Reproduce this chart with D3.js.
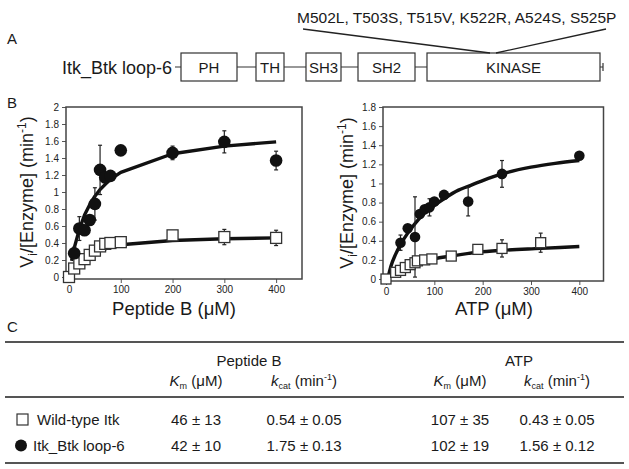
<!DOCTYPE html>
<html><head><meta charset="utf-8">
<script src="https://cdn.jsdelivr.net/npm/d3@7"></script>
<style>
html,body{margin:0;padding:0;background:#fff;}
svg{display:block;font-family:"Liberation Sans",Arial,Helvetica,sans-serif;}
</style></head>
<body>
<svg id="c" width="629" height="469"></svg>
<script>
// ---------- data ----------
const domains = ["PH","TH","SH3","SH2","KINASE"];
const mutations = "M502L, T503S, T515V, K522R, A524S, S525P";

// Panel B left: Peptide B
const pepX_loop = [10,20,30,40,50,60,70,80,100,200,300,400];
const pepY_loop = [0.28,0.57,0.55,0.67,0.86,1.26,1.17,1.19,1.49,1.46,1.59,1.37];
const pepE_loop = [0.07,0.14,0.03,0.04,0.19,0.29,0.04,0.03,0,0.08,0.13,0.11];
const pepX_wt = [0,10,20,30,40,50,60,70,80,100,200,300,400];
const pepY_wt = [0,0.10,0.16,0.21,0.26,0.31,0.36,0.39,0.40,0.41,0.49,0.47,0.46];
const pepE_wt = [0,0,0,0,0,0,0,0,0,0,0.03,0.09,0.09];
const pepFitX_loop = [5,10,20,30,40,50,60,70,80,100,200,300,400];
const pepFitY_loop = [0.19,0.34,0.56,0.73,0.85,0.95,1.03,1.09,1.15,1.23,1.45,1.54,1.59];
const pepFitX_wt = [0,10,20,30,40,50,60,70,80,100,200,300,400];
const pepFitY_wt = [0,0.10,0.16,0.21,0.25,0.28,0.31,0.33,0.35,0.38,0.43,0.45,0.46];

// Panel B right: ATP
const atpX_loop = [30,45,60,70,80,90,100,120,170,240,400];
const atpY_loop = [0.38,0.53,0.44,0.68,0.73,0.75,0.81,0.88,0.81,1.10,1.29];
const atpE_loop = [0.08,0.02,0.42,0.03,0.03,0.09,0.03,0.02,0.15,0.14,0];
const atpX_wt = [0,20,30,40,50,60,65,80,95,135,190,240,320];
const atpY_wt = [0,0.07,0.09,0.12,0.15,0.17,0.19,0.20,0.21,0.24,0.31,0.32,0.38];
const atpE_wt = [0,0,0,0,0,0,0,0,0,0,0,0.09,0.10];
const atpFitX_loop = [5,10,20,30,45,60,80,100,120,150,170,200,240,300,350,400];
const atpFitY_loop = [0.03,0.13,0.26,0.36,0.48,0.58,0.69,0.77,0.84,0.93,0.97,1.03,1.10,1.17,1.21,1.24];
const atpFitX_wt = [0,20,40,60,80,100,135,190,240,320,400];
const atpFitY_wt = [0,0.07,0.12,0.15,0.18,0.21,0.24,0.28,0.30,0.32,0.34];

const xTicks = [0,100,200,300,400];
const yTicksPep = [0,0.2,0.4,0.6,0.8,1,1.2,1.4,1.6,1.8,2];
const yTicksAtp = [0,0.2,0.4,0.6,0.8,1,1.2,1.4,1.6,1.8];

// Table C
const tableRows = ["Wild-type Itk","Itk_Btk loop-6"];
const kmPep = ["46 ± 13","42 ± 10"];
const kcatPep = ["0.54 ± 0.05","1.75 ± 0.13"];
const kmAtp = ["107 ± 35","102 ± 19"];
const kcatAtp = ["0.43 ± 0.05","1.56 ± 0.12"];

// ---------- drawing ----------
const svg = d3.select("#c");
const ink = "#1a1a1a";

// ===== Panel A =====
svg.append("text").attr("x",7).attr("y",44).attr("font-size",15).attr("fill",ink).text("A");
svg.append("text").attr("x",297).attr("y",22.5).attr("font-size",15.5).attr("fill",ink).text(mutations);
const boxX = [181,256,306,358,427];
const boxW = [56,28,35,57,173];
const boxY = 53, boxH = 28, midY = 67;
svg.append("line").attr("x1",175).attr("x2",603).attr("y1",midY).attr("y2",midY).attr("stroke","#333").attr("stroke-width",1.2);
svg.append("line").attr("x1",603).attr("x2",603).attr("y1",midY-4).attr("y2",midY+4).attr("stroke","#333").attr("stroke-width",1.2);
svg.append("text").attr("x",172).attr("y",midY+6.5).attr("text-anchor","end").attr("font-size",18).attr("fill",ink).text("Itk_Btk loop-6");
domains.forEach((d,i)=>{
  svg.append("rect").attr("x",boxX[i]).attr("y",boxY).attr("width",boxW[i]).attr("height",boxH)
    .attr("fill","#fff").attr("stroke","#333").attr("stroke-width",1.2);
  svg.append("text").attr("x",boxX[i]+boxW[i]/2).attr("y",midY+5.5).attr("text-anchor","middle")
    .attr("font-size",15).attr("fill",ink).text(d);
});
svg.append("line").attr("x1",303).attr("y1",29).attr("x2",490).attr("y2",boxY).attr("stroke","#222").attr("stroke-width",1.3);
svg.append("line").attr("x1",606).attr("y1",29).attr("x2",496).attr("y2",boxY).attr("stroke","#222").attr("stroke-width",1.3);

// ===== Panel B =====
svg.append("text").attr("x",7).attr("y",108).attr("font-size",15).attr("fill",ink).text("B");

function panel(opt){
  const x = d3.scaleLinear().domain([0,450]).range(opt.xr);
  const y = d3.scaleLinear().domain([0,opt.ymax]).range(opt.yr);
  const g = svg.append("g");
  const left = x(0)-3, bottom = y(0)+2;
  // axes
  const ya = d3.axisLeft(y).tickValues(opt.yTicks).tickSize(4).tickSizeOuter(0).tickPadding(3)
    .tickFormat(d=>String(+d.toFixed(1)));
  const yg = g.append("g").attr("transform",`translate(${left},0)`).call(ya);
  const xa = d3.axisBottom(x).tickValues(xTicks).tickSize(4).tickSizeOuter(0).tickPadding(3);
  const xg = g.append("g").attr("transform",`translate(0,${bottom})`).call(xa);
  [yg,xg].forEach(a=>{
    a.select(".domain").remove();
    a.selectAll("line").attr("stroke","#555");
    a.selectAll("text").attr("font-size",10).attr("fill","#222").attr("font-family","'Liberation Sans',Arial,sans-serif");
  });
  g.append("rect").attr("x",left).attr("y",y(opt.ymax)).attr("width",x(450)-left).attr("height",bottom-y(opt.ymax))
    .attr("fill","none").attr("stroke","#444").attr("stroke-width",1.5);
  // fits
  const ln = d3.line().x(d=>x(d[0])).y(d=>y(d[1])).curve(opt.curve);
  [[opt.fxw,opt.fyw],[opt.fxl,opt.fyl]].forEach(([fx,fy])=>{
    g.append("path").attr("d",ln(fx.map((v,i)=>[v,fy[i]]))).attr("fill","none")
      .attr("stroke","#111").attr("stroke-width",3.4).attr("stroke-linejoin","round");
  });
  // error bars
  function ebars(xs,ys,es){
    xs.forEach((xv,i)=>{
      if(!es[i]) return;
      const cx=x(xv), y1=y(ys[i]+es[i]), y2=y(ys[i]-es[i]);
      g.append("line").attr("x1",cx).attr("x2",cx).attr("y1",y1).attr("y2",y2).attr("stroke","#222").attr("stroke-width",1.2);
      [y1,y2].forEach(yy=>g.append("line").attr("x1",cx-2).attr("x2",cx+2).attr("y1",yy).attr("y2",yy).attr("stroke","#222").attr("stroke-width",1.2));
    });
  }
  ebars(opt.xw,opt.yw,opt.ew);
  ebars(opt.xl,opt.yl,opt.el);
  // squares
  const s = opt.sq;
  opt.xw.forEach((xv,i)=>{
    g.append("rect").attr("x",x(xv)-s/2).attr("y",y(opt.yw[i])-s/2).attr("width",s).attr("height",s)
      .attr("fill","#fff").attr("stroke","#333").attr("stroke-width",1.3);
  });
  opt.xl.forEach((xv,i)=>{
    g.append("circle").attr("cx",x(xv)).attr("cy",y(opt.yl[i])).attr("r",opt.r).attr("fill","#111");
  });
  // titles
  g.append("text").attr("x",opt.xtx).attr("y",315).attr("text-anchor","middle").attr("font-size",18.5).attr("fill",ink).text(opt.xtitle);
  const yt = g.append("text").attr("transform",`translate(${opt.ytx},${opt.yty}) rotate(-90)`).attr("text-anchor","middle")
    .attr("font-size",18).attr("fill",ink);
  yt.append("tspan").text("V");
  yt.append("tspan").attr("font-size",12).attr("dy",4).text("i");
  yt.append("tspan").attr("dy",-4).text("/[Enzyme] (min");
  yt.append("tspan").attr("font-size",12).attr("dy",-7).text("-1");
  yt.append("tspan").attr("dy",7).text(")");
}

panel({xr:[69,302], yr:[277,107], ymax:2, yTicks:yTicksPep, curve:d3.curveLinear,
  xw:pepX_wt, yw:pepY_wt, ew:pepE_wt, xl:pepX_loop, yl:pepY_loop, el:pepE_loop,
  fxw:pepFitX_wt, fyw:pepFitY_wt, fxl:pepFitX_loop, fyl:pepFitY_loop,
  sq:11, r:6.3, xtitle:"Peptide B (μM)", xtx:174, ytx:33, yty:192});
panel({xr:[386,603.5], yr:[279,107], ymax:1.8, yTicks:yTicksAtp, curve:d3.curveMonotoneX,
  xw:atpX_wt, yw:atpY_wt, ew:atpE_wt, xl:atpX_loop, yl:atpY_loop, el:atpE_loop,
  fxw:atpFitX_wt, fyw:atpFitY_wt, fxl:atpFitX_loop, fyl:atpFitY_loop,
  sq:10, r:5.3, xtitle:"ATP (μM)", xtx:494, ytx:353, yty:193});

// ===== Panel C (table) =====
svg.append("text").attr("x",7).attr("y",332).attr("font-size",15).attr("fill",ink).text("C");
[342,397,463].forEach(yy=>svg.append("line").attr("x1",5).attr("x2",624).attr("y1",yy).attr("y2",yy).attr("stroke","#555").attr("stroke-width",2));
const fs = 15;
svg.append("text").attr("x",249).attr("y",366).attr("text-anchor","middle").attr("font-size",fs).attr("fill",ink).text("Peptide B");
svg.append("text").attr("x",519).attr("y",366).attr("text-anchor","middle").attr("font-size",fs).attr("fill",ink).text("ATP");
function kmLabel(cx){
  const t = svg.append("text").attr("x",cx).attr("y",386).attr("text-anchor","middle").attr("font-size",fs).attr("fill",ink);
  t.append("tspan").attr("font-style","italic").text("K");
  t.append("tspan").attr("font-size",9).attr("dy",3).text("m");
  t.append("tspan").attr("dy",-3).text(" (μM)");
}
function kcatLabel(cx){
  const t = svg.append("text").attr("x",cx).attr("y",386).attr("text-anchor","middle").attr("font-size",fs).attr("fill",ink);
  t.append("tspan").attr("font-style","italic").text("k");
  t.append("tspan").attr("font-size",9).attr("dy",3).text("cat");
  t.append("tspan").attr("dy",-3).text(" (min");
  t.append("tspan").attr("font-size",9).attr("dy",-6).text("-1");
  t.append("tspan").attr("dy",6).text(")");
}
kmLabel(196); kcatLabel(304); kmLabel(460); kcatLabel(557);
const rowY = [425,451];
const colX = [196,304,460,557];
const cols = [kmPep,kcatPep,kmAtp,kcatAtp];
tableRows.forEach((name,i)=>{
  svg.append("text").attr("x",i===0?37:33).attr("y",rowY[i]).attr("font-size",fs).attr("fill",ink).text(name);
  cols.forEach((c,j)=>svg.append("text").attr("x",colX[j]).attr("y",rowY[i]).attr("text-anchor","middle").attr("font-size",fs).attr("fill",ink).text(c[i]));
});
svg.append("rect").attr("x",17).attr("y",rowY[0]-11).attr("width",11).attr("height",11).attr("fill","#fff").attr("stroke","#333").attr("stroke-width",1.2);
svg.append("circle").attr("cx",21).attr("cy",rowY[1]-5.5).attr("r",6).attr("fill","#111");
</script>
</body></html>
